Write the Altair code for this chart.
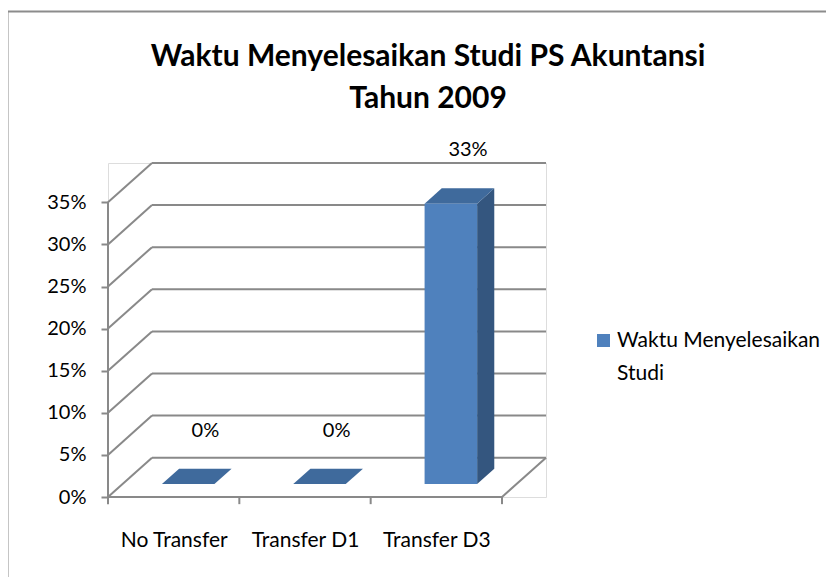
import json
import altair as alt
import pandas as pd

# ---------------- data ----------------
categories = ["No Transfer", "Transfer D1", "Transfer D3"]
values = [0.0, 0.0, 33.3]          # percent
series_name = "Waktu Menyelesaikan Studi"
y_ticks = [0, 5, 10, 15, 20, 25, 30, 35]
title_lines = ["Waktu Menyelesaikan Studi PS Akuntansi", "Tahun 2009"]

# ---------------- style / 3D geometry ----------------
FONT = "Lato"
GRID = "#898989"
FRONT = "#4F81BD"
TOP = "#3F6A9C"
SIDE = "#34567F"
DX = 0.335      # depth offset, category units
DY = 4.67       # depth offset, percent units
F0, F1 = 0.33, 0.72   # bar depth start / end (fraction of depth)
HW = 0.2        # half bar width
YMAX = max(y_ticks)
n = len(categories)

W, H = 438, 334
xs = alt.Scale(domain=[0, n + DX], nice=False, zero=False)
ys = alt.Scale(domain=[0, YMAX + DY], nice=False, zero=False)

x_axis = alt.Axis(values=[i + 0.5 for i in range(n)],
                  labelExpr=json.dumps(categories) + "[floor(datum.value)]",
                  ticks=False, domain=False, grid=False, labelPadding=32,
                  labelFontSize=21, labelFont=FONT, labelColor="black",
                  labelAngle=0, labelFlush=False, title=None)
y_axis = alt.Axis(values=y_ticks, labelExpr="datum.value + '%'",
                  tickSize=7, tickColor=GRID, tickWidth=2, domain=False,
                  grid=False, labelPadding=15, labelFontSize=20,
                  labelFont=FONT, labelColor="black", title=None)

# walls, floor and axis lines
lines = []
for v in y_ticks:
    lines.append(dict(x=DX, y=v + DY, x2=n + DX, y2=v + DY))
    lines.append(dict(x=0, y=v, x2=DX, y2=v + DY))
lines.append(dict(x=0, y=0, x2=n, y2=0))
lines.append(dict(x=n, y=0, x2=n + DX, y2=DY))
lines.append(dict(x=0, y=0, x2=0, y2=YMAX))
for k in range(n + 1):
    lines.append(dict(x=k, y=0, x2=k, y2=-0.85))
lines_df = pd.DataFrame(lines)

front, topf, side, labels = [], [], [], []
for i, (c, v) in enumerate(zip(categories, values)):
    cx = i + 0.5
    front.append(dict(cat=c, series=series_name,
                      x=cx - HW + F0 * DX, x2=cx + HW + F0 * DX,
                      y=F0 * DY, y2=v + F0 * DY))
    for f in (F0, F1):
        topf.append(dict(cat=c, y=v + f * DY,
                         xl=cx - HW + f * DX, xr=cx + HW + f * DX))
        side.append(dict(cat=c, x=cx + HW + f * DX,
                         yb=f * DY, yt=v + f * DY))
    labels.append(dict(cat=c, x=cx + F1 * DX, y=v + F1 * DY,
                       txt=f"{round(v)}%"))
front_df = pd.DataFrame(front)
top_df = pd.DataFrame(topf)
side_df = pd.DataFrame(side)
lab_df = pd.DataFrame(labels)

frame = alt.Chart(pd.DataFrame({"k": [0]})).mark_rect(
    fill=None, stroke="#8c8c8c", strokeWidth=2
).encode(x=alt.value(-100.5), x2=alt.value(900),
         y=alt.value(-151.5), y2=alt.value(600))

rules = alt.Chart(lines_df).mark_rule(color=GRID, strokeWidth=2).encode(
    x=alt.X("x:Q", scale=xs, axis=x_axis), x2="x2:Q",
    y=alt.Y("y:Q", scale=ys, axis=y_axis), y2="y2:Q")

side_l = alt.Chart(side_df).mark_area(color=SIDE, orient="vertical").encode(
    x=alt.X("x:Q", scale=xs, axis=x_axis),
    y=alt.Y("yb:Q", scale=ys, axis=y_axis, stack=None), y2="yt:Q",
    detail="cat:N")

top_l = alt.Chart(top_df).mark_area(color=TOP, orient="horizontal").encode(
    y=alt.Y("y:Q", scale=ys, axis=y_axis),
    x=alt.X("xl:Q", scale=xs, axis=x_axis, stack=None), x2="xr:Q",
    detail="cat:N")

front_l = alt.Chart(front_df).mark_rect().encode(
    x=alt.X("x:Q", scale=xs, axis=x_axis), x2="x2:Q",
    y=alt.Y("y:Q", scale=ys, axis=y_axis), y2="y2:Q",
    color=alt.Color("series:N", scale=alt.Scale(range=[FRONT]),
                    legend=alt.Legend(
                        orient="none", legendX=485, legendY=167,
                        title=None, symbolType="square", symbolSize=169,
                        symbolStrokeWidth=0, labelFont=FONT,
                        labelFontSize=21, labelColor="black", labelOffset=3,
                        labelLimit=400, padding=0, labelBaseline="middle",
                        labelExpr="[slice(datum.label, 0, lastindexof(datum.label, ' ')), "
                                  "slice(datum.label, lastindexof(datum.label, ' ') + 1)]")))

text_l = alt.Chart(lab_df).mark_text(
    font=FONT, fontSize=20, color="black", dy=-38, baseline="middle"
).encode(x=alt.X("x:Q", scale=xs, axis=x_axis),
         y=alt.Y("y:Q", scale=ys, axis=y_axis), text="txt:N")

chart = alt.layer(frame, rules, side_l, top_l, front_l, text_l).properties(
    width=W, height=H,
    autosize="none",
    padding={"left": 100, "top": 155, "right": 280, "bottom": 80},
    title=alt.TitleParams(text=title_lines, font=FONT, fontSize=30,
                          fontWeight="bold", color="black", anchor="middle",
                          dx=101, offset=-133, lineHeight=42, baseline="bottom"),
).configure_view(stroke=None).configure(
    style={"guide-label": {"lineHeight": 33}}
)

chart.save("out.html", embed_options={"renderer": "svg", "actions": False})
